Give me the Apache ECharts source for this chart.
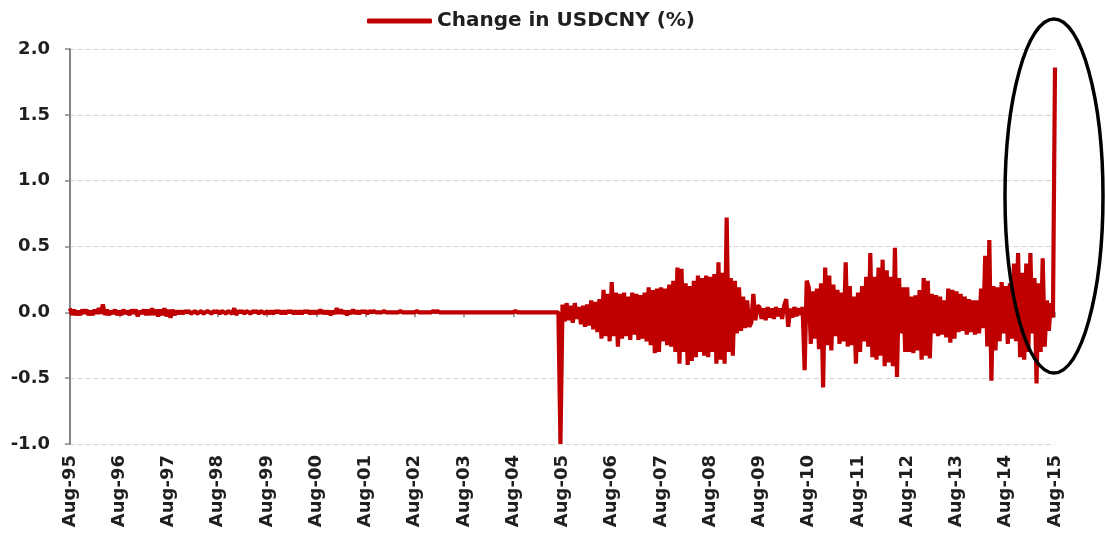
<!DOCTYPE html>
<html>
<head>
<meta charset="utf-8">
<script src="https://cdn.jsdelivr.net/npm/echarts@6/dist/echarts.min.js"></script>
<style>
  html, body { margin: 0; padding: 0; background: #fff; }
  #chart { width: 1105px; height: 533px; }
</style>
</head>
<body>
<div id="chart"></div>
<script>
// tick labels, one per year (24 half-month steps each)
var yearLabels = ['Aug-95', 'Aug-96', 'Aug-97', 'Aug-98', 'Aug-99', 'Aug-00', 'Aug-01',
  'Aug-02', 'Aug-03', 'Aug-04', 'Aug-05', 'Aug-06', 'Aug-07', 'Aug-08', 'Aug-09',
  'Aug-10', 'Aug-11', 'Aug-12', 'Aug-13', 'Aug-14', 'Aug-15']

// change in USDCNY (%), ~half-month steps, Aug..Jul of each year
var y95 = [0.03, -0.02, 0.02, -0.02, 0.01, -0.02, 0.02, -0.01, 0.02, -0.02, 0.01, -0.02, 0.02, -0.01, 0.03, -0.01, 0.06, -0.02, 0.02, -0.02, 0.01, -0.01, 0.02, -0.02]
var y96 = [0.01, -0.02, 0.02, -0.01, 0.01, -0.02, 0.02, -0.01, 0.02, -0.03, 0.01, -0.01, 0.02, -0.02, 0.02, -0.02, 0.03, -0.02, 0.02, -0.03, 0.02, -0.02, 0.03, -0.03]
var y97 = [0.02, -0.04, 0.02, -0.02, 0.01, -0.01, 0.01, -0.01, 0.01, 0, 0.01, -0.01, 0, 0.01, -0.01, 0, 0.01, -0.01, 0, 0.01, 0, -0.01, 0.01, 0]
var y98 = [0.01, -0.01, 0.01, 0, -0.01, 0.01, 0, -0.01, 0.03, -0.02, 0.01, 0, 0.01, -0.01, 0.01, 0, -0.01, 0.01, 0, 0.01, -0.01, 0.01, 0, -0.01]
var y99 = [0.01, -0.01, 0.01, -0.01, 0.01, 0, 0.01, -0.01, 0.01, -0.01, 0.01, 0, 0.01, -0.01, 0.01, -0.01, 0.01, -0.01, 0.01, 0, 0.01, -0.01, 0.01, -0.01]
var y00 = [0.01, -0.01, 0.02, -0.01, 0.01, -0.01, 0.01, -0.02, 0.01, -0.01, 0.03, -0.01, 0.02, -0.01, 0.01, -0.02, 0.01, -0.01, 0.02, -0.01, 0.01, -0.01, 0.01, 0]
var y01 = [0.01, -0.01, 0.01, 0, 0.01, 0, 0, 0, 0, 0.01, 0, 0, 0, 0, 0, 0, 0, 0.01, 0, 0, 0, 0, 0, 0]
var y02 = [0, 0.01, 0, 0, 0, 0, 0, 0, 0, 0.01, 0, 0.01, 0, 0, 0, 0, 0, 0, 0, 0, 0, 0, 0, 0]
var y03 = [0, 0, 0, 0, 0, 0, 0, 0, 0, 0, 0, 0, 0, 0, 0, 0, 0, 0, 0, 0, 0, 0, 0, 0]
var y04 = [0, 0.01, 0, 0, 0, 0, 0, 0, 0, 0, 0, 0, 0, 0, 0, 0, 0, 0, 0, 0, 0, 0, 0, -1.0]
var y05 = [0.06, -0.07, 0.07, -0.06, 0.05, -0.08, 0.07, -0.05, 0.04, -0.09, 0.05, -0.11, 0.06, -0.1, 0.09, -0.13, 0.08, -0.15, 0.1, -0.2, 0.17, -0.18, 0.14, -0.22]
var y06 = [0.23, -0.18, 0.15, -0.26, 0.14, -0.2, 0.15, -0.18, 0.12, -0.21, 0.15, -0.17, 0.14, -0.21, 0.13, -0.2, 0.15, -0.22, 0.19, -0.25, 0.17, -0.31, 0.18, -0.3]
var y07 = [0.19, -0.22, 0.18, -0.25, 0.21, -0.26, 0.24, -0.3, 0.34, -0.39, 0.33, -0.3, 0.22, -0.4, 0.2, -0.37, 0.24, -0.34, 0.28, -0.3, 0.26, -0.33, 0.28, -0.34]
var y08 = [0.27, -0.3, 0.29, -0.39, 0.38, -0.36, 0.3, -0.39, 0.72, -0.3, 0.26, -0.33, 0.24, -0.16, 0.19, -0.14, 0.12, -0.12, 0.09, -0.11, -0.08, 0.14, -0.06, 0.05]
var y09 = [0.04, -0.05, 0.03, -0.06, 0.04, -0.04, 0.03, -0.05, 0.04, -0.03, 0.03, -0.05, 0.05, 0.1, -0.11, 0.03, -0.04, 0.04, -0.03, 0.03, -0.02, 0.04, -0.44, 0.24]
var y10 = [0.19, -0.24, 0.16, -0.2, 0.18, -0.28, 0.22, -0.57, 0.34, -0.25, 0.28, -0.29, 0.21, -0.18, 0.17, -0.24, 0.15, -0.22, 0.38, -0.26, 0.2, -0.25, 0.12, -0.39]
var y11 = [0.15, -0.3, 0.2, -0.22, 0.27, -0.26, 0.45, -0.34, 0.27, -0.36, 0.34, -0.33, 0.4, -0.41, 0.32, -0.38, 0.27, -0.41, 0.49, -0.49, 0.26, -0.16, 0.19, -0.3]
var y12 = [0.19, -0.3, 0.12, -0.31, 0.13, -0.29, 0.17, -0.36, 0.26, -0.33, 0.24, -0.35, 0.14, -0.16, 0.13, -0.18, 0.12, -0.17, 0.09, -0.19, 0.18, -0.23, 0.17, -0.2]
var y13 = [0.16, -0.15, 0.14, -0.14, 0.12, -0.17, 0.1, -0.15, 0.09, -0.17, 0.09, -0.16, 0.18, -0.12, 0.43, -0.26, 0.55, -0.52, 0.2, -0.29, 0.19, -0.22, 0.23, -0.16]
var y14 = [0.2, -0.24, 0.22, -0.2, 0.37, -0.22, 0.45, -0.34, 0.3, -0.36, 0.37, -0.3, 0.45, -0.16, 0.26, -0.54, 0.22, -0.3, 0.41, -0.26, 0.09, -0.14, 0.07, -0.04]
var aug15 = [1.86]

var values = [].concat(y95, y96, y97, y98, y99, y00, y01, y02, y03, y04,
  y05, y06, y07, y08, y09, y10, y11, y12, y13, y14, aug15)
var seriesData = values.map(function (v, i) { return [i, v] })

var textColor = '#1f1f1f'
var font = 'DejaVu Sans'

var chart = echarts.init(document.getElementById('chart'))
chart.setOption({
  animation: false,
  backgroundColor: '#fff',
  legend: {
    left: 362,
    top: 6,
    icon: 'roundRect',
    itemWidth: 65,
    itemHeight: 5,
    itemGap: 5,
    textStyle: { fontFamily: font, fontWeight: 'bold', fontSize: 20, color: textColor },
    data: ['Change in USDCNY (%)']
  },
  grid: { left: 70, right: 50, top: 49, bottom: 89 },
  xAxis: [{
    type: 'value',
    min: 0,
    max: 480,
    interval: 24,
    axisLine: { show: false, onZero: false },
    axisTick: { show: false },
    splitLine: { show: false },
    axisLabel: {
      rotate: 90,
      margin: 11,
      fontFamily: font,
      fontWeight: 'bold',
      fontSize: 18,
      color: textColor,
      formatter: function (v) { return yearLabels[Math.round(v / 24)] }
    }
  }, {
    type: 'value',
    position: 'bottom',
    min: 0,
    max: 480,
    interval: 24,
    axisLine: { show: true, onZero: true, lineStyle: { color: '#868686', width: 1.5 } },
    axisTick: { show: true, length: 5, lineStyle: { color: '#868686', width: 1.5 } },
    axisLabel: { show: false },
    splitLine: { show: false }
  }],
  yAxis: {
    type: 'value',
    min: -1,
    max: 2,
    interval: 0.5,
    axisLine: { show: true, lineStyle: { color: '#868686', width: 2 } },
    axisTick: { show: true, length: 5, lineStyle: { color: '#868686', width: 1.5 } },
    axisLabel: {
      margin: 20,
      fontFamily: font,
      fontWeight: 'bold',
      fontSize: 18,
      color: textColor,
      formatter: function (v) { return v.toFixed(1) }
    },
    splitLine: { lineStyle: { color: '#d4d4d4', type: [5, 3], width: 1 } }
  },
  series: [{
    name: 'Change in USDCNY (%)',
    type: 'line',
    xAxisIndex: 0,
    data: seriesData,
    showSymbol: false,
    symbol: 'none',
    clip: true,
    itemStyle: { color: '#C00000' },
    lineStyle: { color: '#C00000', width: 4.2 }
  }],
  graphic: [{
    type: 'ellipse',
    shape: { cx: 1054, cy: 196, rx: 49, ry: 177 },
    style: { fill: 'none', stroke: '#000', lineWidth: 3.5 },
    z: 100
  }]
})
</script>
</body>
</html>
